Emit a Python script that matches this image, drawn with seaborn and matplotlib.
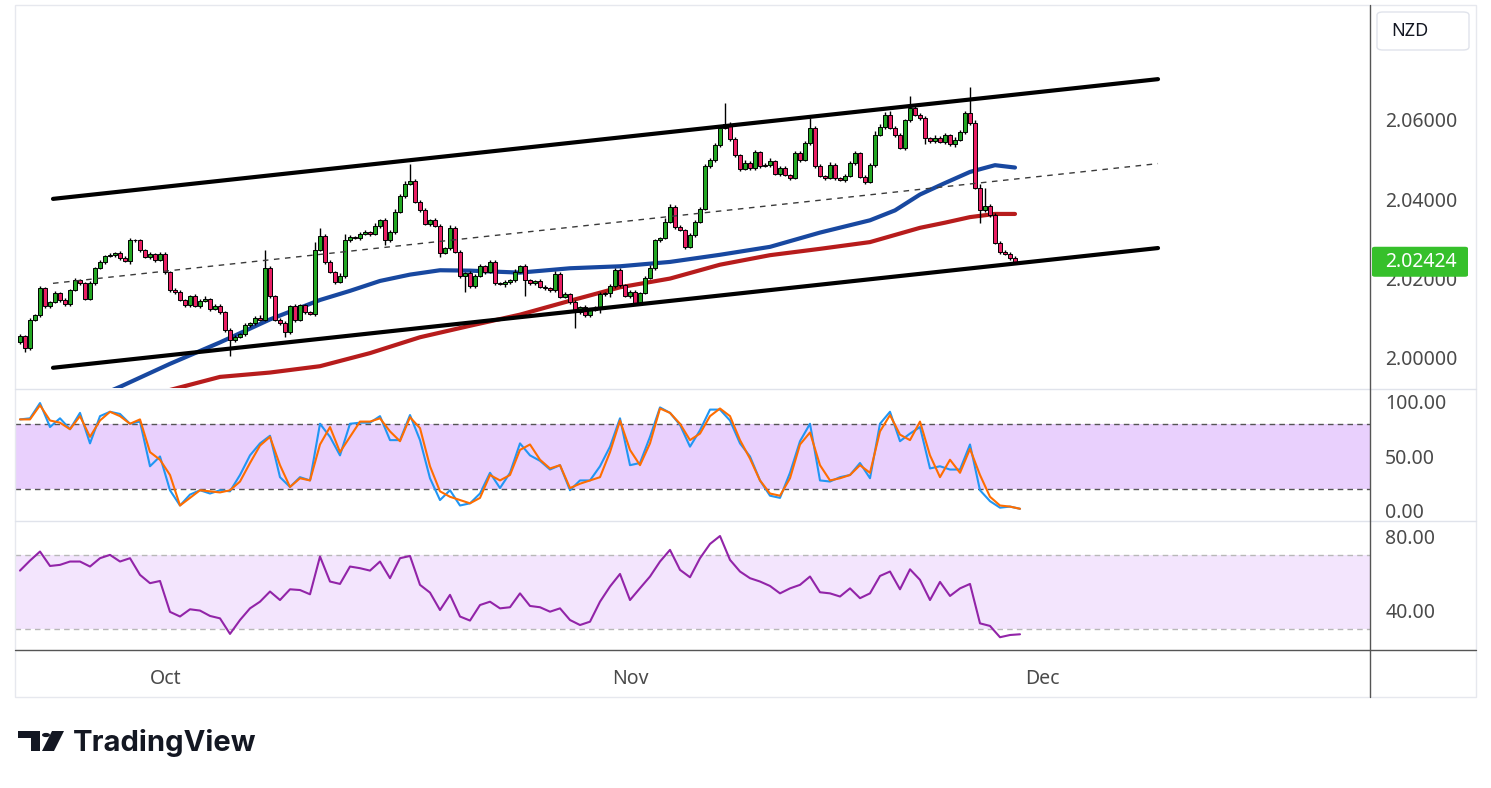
import numpy as np
import pandas as pd
import seaborn as sns
import matplotlib.pyplot as plt
from matplotlib.patches import Rectangle, FancyBboxPatch, Circle, Polygon
from matplotlib.lines import Line2D

sns.set_style('white')
plt.rcParams['font.family'] = ['Noto Sans', 'DejaVu Sans']

# ---- data (price in pips above 2.0000, one value per 4h bar) ----
first_open = 40
close_pips = [
    55, 25, 96, 108, 176, 131, 141, 164, 146, 136, 171, 196, 189, 149, 189, 227, 242, 257, 260, 265,
    252, 244, 297, 297, 272, 254, 262, 247, 262, 217, 171, 166, 146, 133, 156, 131, 144, 149, 123, 131,
    116, 70, 45, 53, 60, 83, 88, 101, 96, 227, 156, 96, 88, 65, 131, 96, 133, 116, 111, 272,
    307, 242, 217, 191, 207, 297, 305, 302, 313, 318, 313, 333, 348, 297, 318, 368, 408, 439, 446, 393,
    373, 338, 348, 333, 265, 277, 328, 267, 207, 214, 181, 207, 232, 217, 242, 189, 186, 191, 196, 217,
    232, 196, 189, 194, 179, 176, 171, 212, 154, 161, 141, 116, 128, 108, 121, 126, 161, 164, 181, 222,
    184, 156, 166, 138, 164, 202, 227, 297, 302, 343, 381, 330, 323, 280, 310, 343, 376, 484, 499, 537,
    580, 590, 552, 512, 476, 492, 479, 519, 484, 487, 497, 464, 479, 461, 454, 517, 499, 542, 580, 484,
    459, 454, 487, 454, 449, 459, 492, 517, 456, 444, 487, 562, 582, 613, 580, 562, 529, 600, 630, 613,
    605, 555, 547, 555, 545, 562, 539, 550, 570, 618, 592, 429, 373, 383, 360, 290, 267, 262, 252, 242.4,
]
upper_wick = [
    4, 3, 5, 3, 6, 4, 3, 5, 2, 4, 3, 5, 4, 3, 6, 2, 4, 3, 5, 3,
    4, 6, 5, 3, 4, 3, 5, 3, 6, 4, 3, 5, 4, 3, 3, 5, 4, 6, 3, 4,
    5, 3, 6, 4, 3, 5, 3, 4, 6, 45, 5, 3, 4, 6, 3, 5, 3, 4, 3, 20,
    20, 5, 4, 3, 6, 15, 4, 3, 5, 4, 3, 6, 3, 5, 4, 8, 5, 6, 43, 5,
    4, 6, 3, 5, 4, 3, 6, 5, 4, 3, 5, 4, 6, 3, 5, 4, 3, 5, 4, 6,
    3, 5, 4, 3, 6, 4, 3, 8, 5, 4, 3, 5, 4, 6, 3, 5, 4, 3, 6, 4,
    5, 3, 4, 6, 3, 5, 8, 4, 3, 10, 6, 4, 5, 3, 6, 4, 5, 6, 4, 5,
    4, 53, 5, 4, 3, 6, 4, 5, 3, 4, 6, 3, 5, 4, 3, 6, 4, 5, 25, 4,
    5, 3, 6, 4, 3, 5, 4, 6, 3, 5, 4, 10, 8, 6, 10, 4, 5, 3, 30, 8,
    5, 4, 3, 6, 4, 5, 3, 6, 4, 5, 65, 8, 10, 45, 6, 5, 4, 6, 5, 4,
]
lower_wick = [
    5, 10, 4, 3, 5, 4, 6, 3, 5, 4, 6, 3, 5, 4, 3, 5, 4, 6, 3, 5,
    4, 3, 6, 4, 5, 3, 4, 6, 3, 5, 4, 6, 3, 5, 4, 3, 6, 4, 5, 3,
    6, 4, 40, 5, 3, 6, 4, 5, 3, 4, 5, 3, 6, 13, 4, 5, 3, 6, 4, 5,
    3, 6, 4, 5, 3, 6, 4, 3, 5, 4, 6, 3, 5, 12, 4, 5, 3, 6, 4, 3,
    5, 4, 6, 3, 10, 4, 5, 3, 6, 40, 5, 4, 3, 6, 4, 5, 3, 6, 4, 5,
    3, 40, 4, 5, 3, 6, 4, 5, 3, 4, 6, 41, 5, 4, 6, 3, 12, 5, 10, 4,
    5, 3, 6, 4, 5, 3, 4, 6, 5, 3, 4, 5, 3, 6, 4, 5, 3, 4, 6, 5,
    4, 3, 5, 6, 4, 3, 5, 4, 6, 3, 5, 4, 6, 3, 5, 4, 6, 3, 5, 4,
    3, 5, 4, 6, 3, 5, 4, 6, 3, 5, 4, 6, 3, 5, 4, 6, 3, 5, 4, 3,
    5, 15, 4, 6, 3, 5, 4, 6, 3, 5, 4, 3, 33, 6, 5, 4, 5, 3, 4, 3,
]

# moving averages (bar index, pips)
blue_idx = [15, 20, 30, 40, 50, 60, 66, 72, 78, 84, 90, 100, 110, 120, 130, 140, 150, 160, 170, 175, 180, 185, 190, 195, 199]
blue_val = [-100, -73, -15, 39, 97, 146, 169, 194, 210, 221, 220, 215, 226, 231, 242, 260, 280, 316, 347, 372, 412, 441, 469, 486, 480]
red_idx = [25, 30, 40, 50, 60, 70, 80, 90, 100, 110, 120, 130, 140, 150, 160, 170, 180, 185, 190, 195, 199]
red_val = [-90, -81, -48, -37, -21, 12, 52, 81, 109, 144, 178, 200, 235, 259, 275, 292, 328, 341, 355, 363, 363]

# channel drawn on the chart (bar index, price)
channel_x = [6.6, 227.6]
channel_upper = [2.0401, 2.0703]
channel_lower = [1.9975, 2.0277]

# stochastic %K / %D and RSI, every second bar
stoch_k = [
    84, 85, 99, 77, 85, 75, 90, 62, 87, 91, 89, 80, 82, 41, 50, 19, 5, 15, 19, 16,
    19, 18, 33, 51, 62, 69, 31, 22, 31, 28, 80, 68, 51, 80, 81, 81, 87, 65, 65, 88,
    65, 30, 10, 19, 5, 7, 16, 35, 21, 35, 62, 51,
    46, 38, 42, 19, 28, 28, 41, 59, 85, 42, 44, 68, 95, 90, 79, 59, 74, 93, 93, 83,
    62, 50, 28, 14, 12, 35, 64, 80, 28, 27, 31, 33, 44, 30, 80, 91, 64, 71, 77, 39,
    41, 38, 38, 61, 19, 9, 3, 4, 2,
]
stoch_d = [
    84, 84, 97, 83, 81, 75, 87, 68, 83, 91, 87, 80, 84, 54, 47, 33, 5, 12, 19, 18,
    17, 19, 27, 44, 60, 68, 42, 22, 30, 28, 61, 77, 54, 68, 82, 82, 85, 73, 64, 86,
    76, 41, 18, 13, 10, 7, 12, 33, 28, 33, 56, 61,
    47, 39, 42, 21, 25, 28, 31, 54, 83, 56, 42, 62, 94, 90, 80, 65, 71, 87, 94, 87,
    65, 48, 28, 16, 14, 30, 61, 72, 42, 28, 30, 33, 42, 35, 73, 88, 70, 65, 82, 51,
    31, 47, 35, 57, 33, 13, 5, 4, 2,
]
rsi = [
    61.8, 67.2, 72.1, 64.3, 64.9, 66.7, 66.7, 64, 68.5, 70.3, 66.7, 68.5, 59.5, 55, 56.2, 39.5, 37, 40.9, 40.2, 37.3,
    36, 27.6, 35.1, 41.4, 45, 50.5, 45.9, 51.7, 51.3, 49, 69.4, 55.9, 54.6, 64, 63.1, 61.8, 66.7, 57.7, 68.5, 69.7,
    54.1, 49.9, 40.5, 48.7, 37, 34.8, 43.2, 45, 41.4, 42, 49.5, 42.7,
    42, 39.6, 41.4, 35.1, 32.4, 34.2, 45, 53.2, 60, 45.9, 52.3, 58.6, 66.7, 73, 62.2, 58.2, 68.5, 76.2, 80.5, 67.6,
    61.3, 57.7, 55.9, 53.5, 49.5, 52.2, 54.1, 58.6, 50.1, 49.5, 47.8, 52.2, 46.9, 49.5, 58.9, 61.3, 51.7, 62.5, 56.8, 45.9,
    55.7, 48.1, 52.2, 54.6, 33.3, 31.9, 25.8, 27, 27.4,
]

month_pos = [29.2, 122, 204.4]
month_labels = ['Oct', 'Nov', 'Dec']
price_ticks = [2.00, 2.02, 2.04, 2.06]

GREEN = '#22a722'
PINK = '#e91e63'
TXT = '#4a4a4a'

# ---- figure / panels ----
W, H = 1491, 788
fig = plt.figure(figsize=(W / 100, H / 100), dpi=100)


def fx(px):
    return px / W


def fy(py):
    return 1 - py / H


def box(l, t, r, b):
    return [fx(l), fy(b), fx(r) - fx(l), fy(t) - fy(b)]


ax_p = fig.add_axes(box(15, 5, 1370, 388))
ax_s = fig.add_axes(box(15, 389, 1370, 520), sharex=ax_p)
ax_r = fig.add_axes(box(15, 521, 1370, 650), sharex=ax_p)

# ---- candles ----
closes = 2 + np.array(close_pips) * 1e-4
opens = np.concatenate([[2 + first_open * 1e-4], closes[:-1]])
highs = np.maximum(opens, closes) + np.array(upper_wick) * 1e-4
lows = np.minimum(opens, closes) - np.array(lower_wick) * 1e-4
bars = np.arange(len(closes))
heights = closes - opens
heights = np.where(np.abs(heights) < 4e-5, 4e-5, heights)
colors = np.where(closes >= opens, GREEN, PINK)

sns.lineplot(x=blue_idx, y=2 + np.array(blue_val) * 1e-4, ax=ax_p, color='#1848a0', linewidth=3)
sns.lineplot(x=red_idx, y=2 + np.array(red_val) * 1e-4, ax=ax_p, color='#b71c1c', linewidth=3)
ax_p.vlines(bars, lows, highs, color='black', linewidth=1, zorder=3)
ax_p.bar(bars, heights, bottom=opens, width=0.72, color=colors, edgecolor='black', linewidth=0.7, zorder=4)

sns.lineplot(x=channel_x, y=channel_upper, ax=ax_p, color='black', linewidth=3, zorder=5)
sns.lineplot(x=channel_x, y=channel_lower, ax=ax_p, color='black', linewidth=3, zorder=5)
mid = [(a + b) / 2 for a, b in zip(channel_upper, channel_lower)]
ax_p.plot(channel_x, mid, color='#3a3a3a', linewidth=1, dashes=(4, 4), zorder=5)

ax_p.set_ylim(1.9924, 2.0890)
ax_p.set_xlim(-1, 270)
ax_p.yaxis.tick_right()
ax_p.set_yticks(price_ticks)
ax_p.set_yticklabels([f'{v:.5f}' for v in price_ticks])

# ---- stochastic ----
ind_x = np.arange(0, 2 * len(stoch_k), 2)
ax_s.axhspan(20, 80, color='#e9d0fd', lw=0)
for lvl in (20, 80):
    ax_s.axhline(lvl, color='#555555', lw=1, dashes=(4, 3))
sns.lineplot(x=ind_x, y=stoch_k, ax=ax_s, color='#2196f3', linewidth=1.5)
sns.lineplot(x=ind_x, y=stoch_d, ax=ax_s, color='#ff6d00', linewidth=1.5)
ax_s.set_ylim(-8.3, 111.9)
ax_s.yaxis.tick_right()
ax_s.set_yticks([0, 50, 100])
ax_s.set_yticklabels(['0.00', '50.00', '100.00'])

# ---- RSI ----
ax_r.axhspan(30, 70, color='#f3e5fd', lw=0)
for lvl in (30, 70):
    ax_r.axhline(lvl, color='#b8b8b8', lw=1, dashes=(4, 3))
sns.lineplot(x=ind_x, y=rsi, ax=ax_r, color='#9224a8', linewidth=1.5)
ax_r.set_ylim(18.9, 88.6)
ax_r.yaxis.tick_right()
ax_r.set_yticks([40, 80])
ax_r.set_yticklabels(['40.00', '80.00'])
ax_r.set_xticks(month_pos)
ax_r.set_xticklabels(month_labels)

for ax in (ax_p, ax_s, ax_r):
    ax.set_xlabel('')
    ax.set_ylabel('')
    for sp in ax.spines.values():
        sp.set_visible(False)
    ax.tick_params(axis='y', length=0, pad=11, labelsize=14, labelcolor=TXT)
    ax.tick_params(axis='x', length=0, pad=14, labelsize=14, labelcolor=TXT)
    ax.set_facecolor('none')
ax_p.tick_params(labelbottom=False)
ax_s.tick_params(labelbottom=False)

# ---- frame lines ----
fig.patches.append(Rectangle((fx(15), fy(697)), fx(1476) - fx(15), fy(5) - fy(697),
                             transform=fig.transFigure, fill=False, ec='#e6e8ee', lw=1))
for y in (388.5, 520.5):
    fig.lines.append(Line2D([fx(15), fx(1476)], [fy(y), fy(y)], transform=fig.transFigure, color='#e0e3eb', lw=1))
fig.lines.append(Line2D([fx(15), fx(1476)], [fy(650), fy(650)], transform=fig.transFigure, color='#555555', lw=1))
fig.lines.append(Line2D([fx(1370), fx(1370)], [fy(5), fy(697)], transform=fig.transFigure, color='#555555', lw=1))

# last price label
last = closes[-1]
fig.canvas.draw()
y_last = ax_p.transData.transform((0, last))[1]
fig.patches.append(FancyBboxPatch((fx(1372), (y_last - 15) / H), fx(1468) - fx(1372), 30 / H,
                                  boxstyle='round,pad=0,rounding_size=0.002', transform=fig.transFigure,
                                  fc='#36c02b', ec='none'))
fig.text(fx(1385), y_last / H, f'{last:.5f}', color='white', fontsize=14, fontweight='bold',
         va='center', ha='left')

# currency box
fig.patches.append(FancyBboxPatch((fx(1377), fy(50)), fx(1469) - fx(1377), fy(12) - fy(50),
                                  boxstyle='round,pad=0,rounding_size=0.004', transform=fig.transFigure,
                                  fc='white', ec='#e0e3eb', lw=1))
fig.text(fx(1391), fy(31), 'NZD', color='#131722', fontsize=13, va='center', ha='left')

# ---- TradingView logo ----
logo = '#131722'
fig.patches.append(Rectangle((fx(18), fy(738)), fx(40) - fx(18), fy(731) - fy(738), transform=fig.transFigure, fc=logo, ec='none'))
fig.patches.append(Rectangle((fx(31), fy(751)), fx(40) - fx(31), fy(731) - fy(751), transform=fig.transFigure, fc=logo, ec='none'))
fig.patches.append(Circle((fx(46), fy(735)), 4 / W, transform=fig.transFigure, fc=logo, ec='none'))
fig.patches.append(Polygon([(fx(52), fy(731)), (fx(64), fy(731)), (fx(54), fy(751)), (fx(42), fy(751))],
                           transform=fig.transFigure, fc=logo, ec='none'))
fig.text(fx(73), fy(751), 'TradingView', family=['Inter', 'DejaVu Sans'], fontweight='bold',
         fontsize=21, color=logo, va='baseline', ha='left')

fig.savefig('out.png', dpi=100)
